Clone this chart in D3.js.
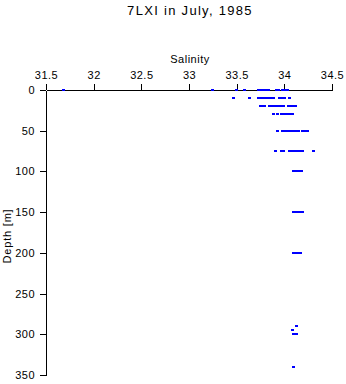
<!DOCTYPE html>
<html>
<head>
<meta charset="utf-8">
<script src="https://d3js.org/d3.v7.min.js"></script>
<style>
body { margin: 0; background: #fff; }
text { font-family: "Liberation Sans", Arial, sans-serif; fill: #000; }
.axis path, .axis line { fill: none; stroke: #000; stroke-width: 1; shape-rendering: crispEdges; }
.axis text { font-size: 11px; letter-spacing: 0.5px; }
</style>
</head>
<body>
<svg id="chart" width="346" height="384"></svg>
<script>

// depth levels [m] and salinity readings at each level
var depths = [0, 10, 20, 30, 50, 75, 100, 150, 200, 290, 295, 300, 340];
var sal0   = [31.68, 33.24, 33.49, 33.58, 33.72, 33.74, 33.76, 33.78, 33.80, 33.83, 33.91, 33.93, 33.98, 34.01, 34.03];
var sal10  = [33.46, 33.63, 33.72, 33.75, 33.78, 33.80, 33.82, 33.84, 33.86, 33.88, 33.94, 33.96, 33.98, 34.00, 34.05];
var sal20  = [33.74, 33.76, 33.79, 33.84, 33.86, 33.89, 33.92, 33.94, 33.96, 33.99, 34.04, 34.06, 34.08, 34.11];
var sal30  = [33.88, 33.92, 33.97, 33.99, 34.01, 34.03, 34.05, 34.08];
var sal50  = [33.92, 33.98, 34.00, 34.03, 34.06, 34.08, 34.10, 34.12, 34.14, 34.19, 34.22, 34.24];
var sal75  = [33.90, 33.97, 33.99, 34.05, 34.07, 34.09, 34.12, 34.14, 34.16, 34.19, 34.30];
var sal100 = [34.09, 34.11, 34.13, 34.15, 34.17];
var sal150 = [34.09, 34.11, 34.14, 34.17, 34.19];
var sal200 = [34.09, 34.11, 34.13, 34.16];
var sal290 = [34.12];
var sal295 = [34.08];
var sal300 = [34.09, 34.12];
var sal340 = [34.09];
var salinity = [sal0, sal10, sal20, sal30, sal50, sal75, sal100, sal150, sal200, sal290, sal295, sal300, sal340];

var xTicks = [31.5, 32, 32.5, 33, 33.5, 34, 34.5];
var yTicks = [0, 50, 100, 150, 200, 250, 300, 350];

var svg = d3.select("#chart");
var m = {left: 46, right: 332, top: 90, bottom: 375};

var x = d3.scaleLinear().domain([31.5, 34.5]).range([m.left, m.right]);
var y = d3.scaleLinear().domain([0, 350]).range([m.top, m.bottom]);

// points
var pts = [];
depths.forEach(function(d, i) {
    salinity[i].forEach(function(s) { pts.push({depth: d, sal: s}); });
});

svg.append("g")
    .attr("class", "axis")
    .attr("transform", "translate(0," + m.top + ")")
    .call(d3.axisTop(x).tickValues(xTicks).tickFormat(d3.format("")).tickSize(6).tickSizeOuter(0).tickPadding(5));

svg.append("g")
    .attr("class", "axis")
    .attr("transform", "translate(" + m.left + ",0)")
    .call(d3.axisLeft(y).tickValues(yTicks).tickSize(6).tickSizeOuter(0).tickPadding(5));

svg.selectAll("rect.pt")
    .data(pts)
    .enter().append("rect")
    .attr("class", "pt")
    .attr("x", function(d) { return Math.round(x(d.sal)) - 1; })
    .attr("y", function(d) { return Math.round(y(d.depth)) - 1; })
    .attr("width", 3)
    .attr("height", 2)
    .attr("fill", "#0000ff")
    .attr("shape-rendering", "crispEdges");

// title and labels
svg.append("text")
    .attr("x", 190).attr("y", 15)
    .attr("text-anchor", "middle")
    .style("font-size", "13px")
    .style("letter-spacing", "1.3px")
    .text("7LXI in July, 1985");

svg.append("text")
    .attr("x", 190).attr("y", 63)
    .attr("text-anchor", "middle")
    .style("font-size", "11px")
    .style("letter-spacing", "0.5px")
    .text("Salinity");

svg.append("text")
    .attr("transform", "translate(11,236) rotate(-90)")
    .attr("text-anchor", "middle")
    .style("font-size", "11px")
    .style("letter-spacing", "0.8px")
    .text("Depth [m]");

</script>
</body>
</html>
